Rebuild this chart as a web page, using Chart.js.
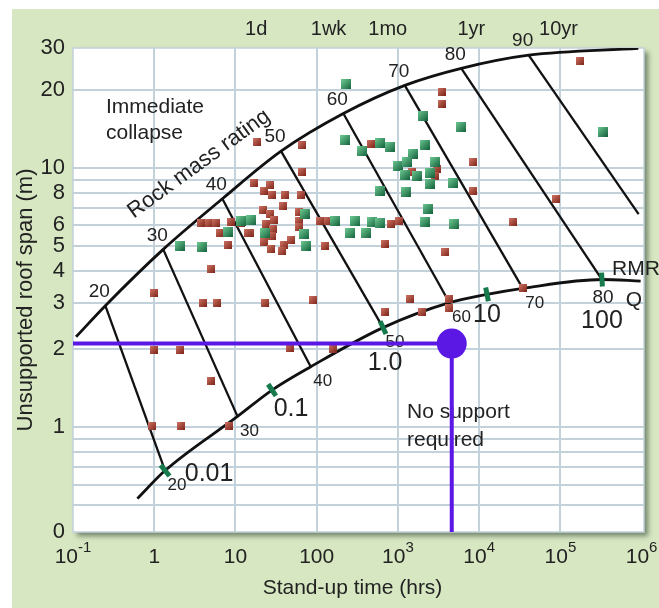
<!DOCTYPE html>
<html>
<head>
<meta charset="utf-8">
<script src="https://cdn.jsdelivr.net/npm/chart.js@4"></script>
<style>
  body { margin: 0; background: #fff; }
  canvas { display: block; }
</style>
</head>
<body>
<canvas id="chart" width="659" height="608"></canvas>
<script>
// case records: stand-up time (hrs) and unsupported span (m)
const redX = [18.5, 65.6, 65.6, 17.1, 26.7, 22.6, 28.3, 40.7, 63.8, 38.5,
  21.9, 60.3, 26.7, 29.9, 23.9, 60.3, 109, 136, 29.1, 60.3,
  15.2, 28.3, 22.6, 48.2, 39.6, 27.5, 37.4, 125, 3.74, 4.69,
  5.70, 8.69, 11.8, 6.38, 14.4, 7.99, 4.96, 0.98, 3.96, 5.87,
  23.2, 89.4, 0.98, 2.07, 46.9, 157, 4.96, 0.95, 2.13, 8.22,
  3440, 3440, 469, 8450, 1480, 2990, 2900, 8450, 822, 1030,
  693, 3850, 26000, 89300, 175000, 1400, 693, 1960, 4310, 4310,
  34400];
const redY = [12.6, 12.2, 9.65, 8.75, 8.59, 8.15, 7.86, 7.86, 7.86, 7.12,
  6.88, 6.75, 6.63, 6.29, 6.07, 6.23, 6.23, 6.23, 5.80, 5.91,
  5.60, 5.45, 5.17, 5.26, 5.03, 4.85, 4.77, 4.99, 6.12, 6.12,
  6.12, 6.18, 6.12, 5.60, 5.60, 5.03, 4.06, 3.28, 3.02, 3.02,
  3.02, 3.08, 1.99, 1.99, 2.02, 2.01, 1.51, 1.01, 1.01, 1.01,
  19.7, 17.7, 12.4, 10.5, 9.65, 9.9, 9.31, 8.15, 6.07, 6.23,
  5.08, 4.73, 6.18, 7.58, 25.8, 3.11, 2.79, 2.77, 3.13, 2.87,
  3.43];
const greenX = [232, 2020, 6030, 334000, 226, 603, 798, 364, 2130, 1520,
  1000, 1290, 2830, 1220, 1710, 2450, 2450, 4820, 603, 1250,
  2320, 166, 299, 482, 603, 2130, 4960, 260, 407, 71.4,
  15.7, 23.2, 69.4, 73.4, 7.99, 11.8, 2.07, 3.85];
const greenY = [21.0, 15.9, 14.4, 13.8, 12.8, 12.5, 12.0, 11.6, 12.3, 11.3,
  10.2, 10.5, 10.5, 9.4, 9.31, 9.56, 8.67, 8.75, 8.15, 8.07,
  6.94, 6.23, 6.23, 6.18, 6.12, 6.18, 6.07, 5.60, 5.60, 6.63,
  6.29, 5.60, 5.55, 4.99, 5.65, 6.23, 4.99, 4.94];

// boundary curves
const upperX = [0.109, 0.25, 1.29, 6.9, 36.4, 213, 1216, 6030, 40700, 912000];
const upperY = [2.23, 2.94, 4.85, 7.6, 11.6, 16.2, 20.8, 24.2, 27.2, 28.9];
const lowerX = [0.62, 1.36, 10.6, 28.2, 84.5, 656, 4310, 12500, 34400, 325000, 973000];
const lowerY = [0.53, 0.68, 1.10, 1.39, 1.71, 2.42, 3.02, 3.25, 3.43, 3.71, 3.66];

// RMR lines
const rmrValues = [20, 30, 40, 50, 60, 70, 80, 90];
const rmrTopX = [0.25, 1.29, 6.9, 36.4, 213, 1216, 6030, 40700];
const rmrTopY = [2.94, 4.85, 7.6, 11.6, 16.2, 20.8, 24.2, 27.2];
const rmrBotX = [1.36, 10.6, 84.5, 656, 4310, 34400, 325000, 918000];
const rmrBotY = [0.68, 1.10, 1.71, 2.42, 3.02, 3.43, 3.71, 6.63];

// Q marks on the lower curve
const qLabels = ['0.01', '0.1', '1.0', '10', '100'];
const qX = [1.36, 28.2, 656, 12500, 325000];
const qY = [0.68, 1.39, 2.42, 3.25, 3.71];

// worked example
const exampleX = 4600;
const exampleY = 2.1;

// axes
const X_MIN = 0.1, X_MAX = 1.07e6, Y_MIN = 0.394, Y_MAX = 29;
const xGrid = [1, 10, 100, 1e3, 1e4, 1e5];
const xTicks = [0.1, 1, 10, 100, 1e3, 1e4, 1e5, 1e6];
const xTickBase = ['10', '1', '10', '100', '10', '10', '10', '10'];
const xTickExp = ['-1', '', '', '', '3', '4', '5', '6'];
const timeTicks = [18, 140, 750, 8000, 95000];
const timeLabels = ['1d', '1wk', '1mo', '1yr', '10yr'];
const yGrid = [0.5, 0.6, 0.7, 0.8, 0.9, 1, 2, 3, 4, 5, 6, 7, 8, 9, 10, 20];
const yTicks = [29, 20, 10, 8, 6, 5, 4, 3, 2, 1, 0.394];
const yTickLabels = ['30', '20', '10', '8', '6', '5', '4', '3', '2', '1', '0'];

const FONT = '"Liberation Sans", Arial, sans-serif';
const GRID = '#c3d1db';
const INK = '#222';
const BLUE = '#5b18e4';
const QGREEN = '#167a4c';

const pts = (xs, ys) => xs.map((x, i) => ({ x, y: ys[i] }));

function square(size, light, dark) {
  const c = document.createElement('canvas');
  c.width = size;
  c.height = size;
  const g = c.getContext('2d');
  const grad = g.createLinearGradient(0, 0, size, size);
  grad.addColorStop(0, light);
  grad.addColorStop(1, dark);
  g.fillStyle = grad;
  g.fillRect(0, 0, size, size);
  return c;
}

function tickAngle(ctx) {
  if (ctx.dataIndex === undefined) return 0;
  const xs = ctx.chart.scales.x, ys = ctx.chart.scales.y;
  const j = lowerX.indexOf(qX[ctx.dataIndex]);
  const a = Math.max(j - 1, 0), b = Math.min(j + 1, lowerX.length - 1);
  const dx = xs.getPixelForValue(lowerX[b]) - xs.getPixelForValue(lowerX[a]);
  const dy = ys.getPixelForValue(lowerY[b]) - ys.getPixelForValue(lowerY[a]);
  return Math.atan2(dy, dx) * 180 / Math.PI + 90;
}

const lineDefaults = { showLine: true, pointRadius: 0, borderColor: '#111', fill: false };

const datasets = [
  { ...lineDefaults, order: 0, borderColor: BLUE, borderWidth: 4,
    data: [{ x: X_MIN, y: exampleY }, { x: exampleX, y: exampleY }, { x: exampleX, y: Y_MIN }] },
  { order: 0, data: [{ x: exampleX, y: exampleY }], pointRadius: 15,
    backgroundColor: BLUE, borderWidth: 0 },
  { order: 1, data: pts(qX, qY), pointStyle: 'line', pointRadius: 7,
    borderColor: QGREEN, borderWidth: 5, rotation: tickAngle },
  { order: 2, data: pts(greenX, greenY), pointStyle: square(10, '#6fca93', '#12603a'), pointRadius: 5 },
  { order: 3, data: pts(redX, redY), pointStyle: square(8, '#cf7464', '#7c2419'), pointRadius: 4 },
  { ...lineDefaults, order: 4, borderWidth: 2.8, tension: 0.4, cubicInterpolationMode: 'monotone',
    data: pts(upperX, upperY) },
  { ...lineDefaults, order: 4, borderWidth: 2.8, tension: 0.4, cubicInterpolationMode: 'monotone',
    data: pts(lowerX, lowerY) },
  ...rmrValues.map((v, i) => ({ ...lineDefaults, order: 4, borderWidth: 2.3,
    data: [{ x: rmrTopX[i], y: rmrTopY[i] }, { x: rmrBotX[i], y: rmrBotY[i] }] }))
];

function text(ctx, str, x, y, size, align = 'center', base = 'middle') {
  ctx.font = size + 'px ' + FONT;
  ctx.textAlign = align;
  ctx.textBaseline = base;
  ctx.fillText(str, x, y);
}

const decor = {
  id: 'decor',
  beforeDraw(chart) {
    const { ctx, chartArea: a } = chart;
    ctx.save();
    ctx.fillStyle = '#fff';
    ctx.fillRect(0, 0, chart.width, chart.height);
    ctx.fillStyle = '#d7e7c2';
    ctx.fillRect(12, 9, chart.width - 12, chart.height - 9);
    ctx.shadowColor = 'rgba(60, 80, 60, 0.65)';
    ctx.shadowBlur = 5;
    ctx.shadowOffsetX = 4;
    ctx.shadowOffsetY = 4;
    ctx.fillStyle = '#fff';
    ctx.fillRect(a.left, a.top, a.width, a.height);
    ctx.restore();
  },
  beforeDatasetsDraw(chart) {
    const { ctx, chartArea: a } = chart;
    const xs = chart.scales.x, ys = chart.scales.y;
    ctx.save();
    ctx.strokeStyle = GRID;
    ctx.lineWidth = 1.5;
    ctx.strokeRect(a.left, a.top, a.width, a.height);
    ctx.fillStyle = INK;

    // axis tick labels
    yTicks.forEach((v, i) => text(ctx, yTickLabels[i], 65, ys.getPixelForValue(v), 22, 'right'));
    xTicks.forEach((v, i) => {
      const cx = xs.getPixelForValue(v);
      ctx.font = '21px ' + FONT;
      const wb = ctx.measureText(xTickBase[i]).width;
      ctx.font = '15px ' + FONT;
      const we = xTickExp[i] ? ctx.measureText(xTickExp[i]).width : 0;
      const left = cx - (wb + we) / 2;
      text(ctx, xTickBase[i], left, 563, 21, 'left', 'alphabetic');
      if (xTickExp[i]) text(ctx, xTickExp[i], left + wb, 552, 15, 'left', 'alphabetic');
    });
    timeTicks.forEach((v, i) => text(ctx, timeLabels[i], xs.getPixelForValue(v), 35, 20, 'center', 'alphabetic'));

    // axis titles
    text(ctx, 'Stand-up time (hrs)', (a.left + a.right) / 2 - 6, 594, 21, 'center', 'alphabetic');
    ctx.save();
    ctx.translate(26, 300);
    ctx.rotate(-Math.PI / 2);
    text(ctx, 'Unsupported roof span (m)', 0, 0, 22);
    ctx.restore();

    // region notes
    text(ctx, 'Immediate', 106, 113, 21, 'left', 'alphabetic');
    text(ctx, 'collapse', 106, 139, 21, 'left', 'alphabetic');
    text(ctx, 'No support', 407, 418, 21, 'left', 'alphabetic');
    text(ctx, 'required', 407, 446, 21, 'left', 'alphabetic');
    ctx.save();
    ctx.translate(199, 164);
    ctx.rotate(-36 * Math.PI / 180);
    text(ctx, 'Rock mass rating', 0, 0, 22);
    ctx.restore();

    // RMR numbers
    rmrValues.forEach((v, i) => {
      text(ctx, String(v), xs.getPixelForValue(rmrTopX[i]) - 6, ys.getPixelForValue(rmrTopY[i]) - 14, 19);
      if (v < 80) {
        text(ctx, String(v), xs.getPixelForValue(rmrBotX[i]) + 12, ys.getPixelForValue(rmrBotY[i]) + 15, 17);
      } else if (v === 80) {
        text(ctx, String(v), xs.getPixelForValue(rmrBotX[i]) + 1, ys.getPixelForValue(rmrBotY[i]) + 18, 19);
      }
    });
    text(ctx, 'RMR', 636, 269, 21);
    text(ctx, 'Q', 634, 300, 21);

    // Q numbers
    const qOff = [[44, 4], [19, 19], [2, 35], [0, 21], [0, 42]];
    qLabels.forEach((s, i) => {
      text(ctx, s, xs.getPixelForValue(qX[i]) + qOff[i][0], ys.getPixelForValue(qY[i]) + qOff[i][1], 25);
    });
    ctx.restore();
  }
};

new Chart(document.getElementById('chart'), {
  type: 'scatter',
  data: { datasets },
  options: {
    responsive: false,
    animation: false,
    events: [],
    layout: { padding: { left: 73, top: 48, right: 11, bottom: 76 } },
    plugins: { legend: { display: false }, tooltip: { enabled: false } },
    scales: {
      x: {
        type: 'logarithmic', min: X_MIN, max: X_MAX,
        afterBuildTicks: s => { s.ticks = xGrid.map(v => ({ value: v })); },
        afterFit: s => { s.height = 0; },
        ticks: { display: false },
        grid: { color: GRID, lineWidth: 2, drawTicks: false },
        border: { display: false }
      },
      y: {
        type: 'logarithmic', min: Y_MIN, max: Y_MAX,
        afterBuildTicks: s => { s.ticks = yGrid.map(v => ({ value: v })); },
        afterFit: s => { s.width = 0; },
        ticks: { display: false },
        grid: { color: GRID, lineWidth: 2, drawTicks: false },
        border: { display: false }
      }
    }
  },
  plugins: [decor]
});
</script>
</body>
</html>
